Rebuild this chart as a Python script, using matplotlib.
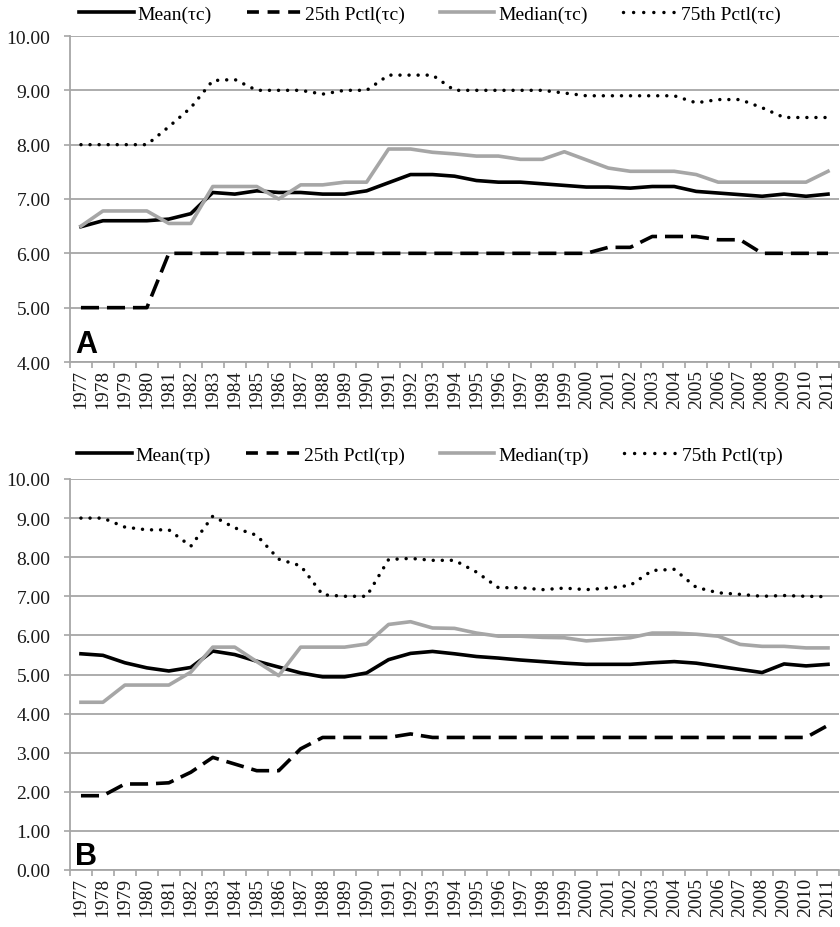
"""
Tax-rate distribution over time, two panels (tau_c on top, tau_p below).
Writes out.png
"""

import numpy as np
import matplotlib
matplotlib.use("Agg")
import matplotlib.pyplot as plt
from matplotlib.lines import Line2D
from matplotlib.ticker import FixedLocator, NullFormatter

years = list(range(1977, 2012))

# Panel A (tau c)
mean_c = [6.49, 6.60, 6.60, 6.60, 6.63, 6.73, 7.12, 7.09, 7.15, 7.12, 7.12, 7.09,
          7.09, 7.15, 7.30, 7.45, 7.45, 7.42, 7.34, 7.31, 7.31, 7.28, 7.25, 7.22,
          7.22, 7.20, 7.23, 7.23, 7.14, 7.11, 7.08, 7.05, 7.09, 7.05, 7.09]
p25_c = [5.00, 5.00, 5.00, 5.00, 6.00, 6.00, 6.00, 6.00, 6.00, 6.00, 6.00, 6.00,
         6.00, 6.00, 6.00, 6.00, 6.00, 6.00, 6.00, 6.00, 6.00, 6.00, 6.00, 6.00,
         6.11, 6.11, 6.31, 6.31, 6.31, 6.25, 6.25, 6.00, 6.00, 6.00, 6.00]
median_c = [6.50, 6.78, 6.78, 6.78, 6.55, 6.55, 7.23, 7.23, 7.23, 7.00, 7.26, 7.26,
            7.31, 7.31, 7.92, 7.92, 7.86, 7.83, 7.79, 7.79, 7.73, 7.73, 7.87, 7.72,
            7.57, 7.51, 7.51, 7.51, 7.45, 7.31, 7.31, 7.31, 7.31, 7.31, 7.51]
p75_c = [8.00, 8.00, 8.00, 8.00, 8.33, 8.68, 9.18, 9.20, 9.00, 9.00, 9.00, 8.93,
         9.00, 9.00, 9.28, 9.28, 9.28, 9.00, 9.00, 9.00, 9.00, 9.00, 8.95, 8.90,
         8.90, 8.90, 8.90, 8.90, 8.77, 8.83, 8.83, 8.68, 8.50, 8.50, 8.50]

# Panel B (tau p)
mean_p = [5.53, 5.49, 5.30, 5.17, 5.09, 5.18, 5.60, 5.51, 5.34, 5.19, 5.04, 4.94,
          4.94, 5.04, 5.38, 5.54, 5.59, 5.53, 5.46, 5.42, 5.37, 5.33, 5.29, 5.26,
          5.26, 5.26, 5.30, 5.33, 5.29, 5.21, 5.13, 5.05, 5.27, 5.22, 5.26]
p25_p = [1.90, 1.90, 2.20, 2.20, 2.23, 2.50, 2.88, 2.71, 2.54, 2.54, 3.10, 3.39,
         3.39, 3.39, 3.39, 3.48, 3.39, 3.39, 3.39, 3.39, 3.39, 3.39, 3.39, 3.39,
         3.39, 3.39, 3.39, 3.39, 3.39, 3.39, 3.39, 3.39, 3.39, 3.39, 3.70]
median_p = [4.29, 4.29, 4.73, 4.73, 4.73, 5.06, 5.70, 5.70, 5.33, 4.97, 5.70, 5.70,
            5.70, 5.78, 6.28, 6.35, 6.19, 6.18, 6.06, 5.98, 5.98, 5.95, 5.94, 5.86,
            5.90, 5.94, 6.06, 6.06, 6.03, 5.98, 5.77, 5.72, 5.72, 5.68, 5.68]
p75_p = [9.00, 9.00, 8.77, 8.70, 8.70, 8.28, 9.05, 8.75, 8.56, 7.95, 7.78, 7.04,
         7.00, 7.00, 7.94, 7.97, 7.92, 7.92, 7.62, 7.22, 7.22, 7.17, 7.21, 7.17,
         7.21, 7.28, 7.66, 7.69, 7.23, 7.09, 7.05, 7.00, 7.02, 7.00, 6.99]

labels_c = ["Mean(τc)", "25th Pctl(τc)", "Median(τc)", "75th Pctl(τc)"]
labels_p = ["Mean(τp)", "25th Pctl(τp)", "Median(τp)", "75th Pctl(τp)"]

GRID = "#a6a6a6"
MEDIAN_GREY = "#a6a6a6"
TEXT = "#1a1a1a"

plt.rcParams["font.family"] = ["Liberation Serif", "DejaVu Serif"]


def draw_panel(ax, series, ylim, letter, letter_y):
    x = np.arange(len(years))
    mean, p25, med, p75 = series
    ax.plot(x, mean, color="black", lw=2.6, solid_joinstyle="round")
    ax.plot(x, p25, color="black", lw=2.6, dashes=(5.0, 2.2), dash_capstyle="butt")
    ax.plot(x, med, color=MEDIAN_GREY, lw=2.6, solid_joinstyle="round")
    ax.plot(x, p75, color="black", lw=2.5, dashes=(0.01, 2.6), dash_capstyle="round")

    ax.set_xlim(-0.5, len(years) - 0.5)
    ax.set_ylim(*ylim)
    yt = np.arange(ylim[0], ylim[1] + 0.5, 1.0)
    ax.set_yticks(yt)
    ax.set_yticklabels([f"{v:.2f}" for v in yt])
    ax.yaxis.grid(True, color=GRID, lw=1.3)
    ax.set_axisbelow(True)

    # category axis: labels at centres, ticks on the boundaries
    ax.set_xticks(x)
    ax.set_xticklabels([str(y) for y in years], rotation=90)
    ax.xaxis.set_minor_locator(FixedLocator(np.arange(-0.5, len(years), 1.0)))
    ax.xaxis.set_minor_formatter(NullFormatter())
    ax.tick_params(axis="x", which="major", length=0, pad=5, labelsize=14, labelcolor=TEXT)
    ax.tick_params(axis="x", which="minor", length=4, width=1.2, color=GRID)
    ax.tick_params(axis="y", length=4, width=1.2, color=GRID, pad=10, labelsize=14,
                   labelcolor=TEXT)

    for side in ("top", "right"):
        ax.spines[side].set_visible(False)
    for side in ("left", "bottom"):
        ax.spines[side].set_color(GRID)
        ax.spines[side].set_linewidth(1.3)

    ax.text(0.007, letter_y, letter, transform=ax.transAxes, fontsize=22,
            fontweight="bold", family="Liberation Sans", va="baseline", ha="left")


def legend_handles():
    # legend keys: three short dashes / six dots, like the original
    return [
        Line2D([], [], color="black", lw=2.6),
        Line2D([], [], color="black", lw=2.6, dashes=(3.3, 2.4), dash_capstyle="butt"),
        Line2D([], [], color=MEDIAN_GREY, lw=2.6),
        Line2D([], [], color="black", lw=2.5, dashes=(0.01, 2.9), dash_capstyle="round"),
    ]


def main():
    fig = plt.figure(figsize=(8.4, 9.28), dpi=100)
    ax_a = fig.add_axes([0.0833, 1 - 363 / 928, 0.9155, (363 - 37) / 928])
    ax_b = fig.add_axes([0.0833, 1 - 871 / 928, 0.9155, (871 - 480) / 928])

    draw_panel(ax_a, (mean_c, p25_c, median_c, p75_c), (4.0, 10.0), "A", 0.03)
    draw_panel(ax_b, (mean_p, p25_p, median_p, p75_p), (0.0, 10.0), "B", 0.016)

    for labels, ly in ((labels_c, 1 - 15 / 928), (labels_p, 1 - 456 / 928)):
        fig.legend(legend_handles(), labels, loc="center", bbox_to_anchor=(0.512, ly),
                   ncol=4, frameon=False, fontsize=14, handlelength=2.8,
                   handletextpad=0.2, columnspacing=1.8, borderpad=0, borderaxespad=0)

    fig.savefig("out.png", dpi=100)
    plt.close(fig)


if __name__ == "__main__":
    main()
